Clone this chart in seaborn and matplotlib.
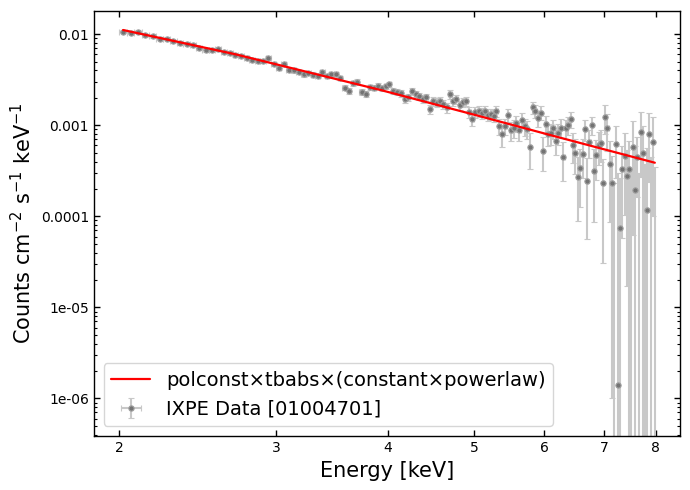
import numpy as np
import pandas as pd
import matplotlib
matplotlib.use("Agg")
import matplotlib.pyplot as plt
from matplotlib.ticker import FixedLocator, FuncFormatter, NullLocator, NullFormatter, LogLocator
import seaborn as sns

# spectral bins (keV), 0.04 keV wide
energy = [
    2.02, 2.06, 2.10, 2.14, 2.18, 2.22, 2.26, 2.30, 2.34, 2.38,
    2.42, 2.46, 2.50, 2.54, 2.58, 2.62, 2.66, 2.70, 2.74, 2.78,
    2.82, 2.86, 2.90, 2.94, 2.98, 3.02, 3.06, 3.10, 3.14, 3.18,
    3.22, 3.26, 3.30, 3.34, 3.38, 3.42, 3.46, 3.50, 3.54, 3.58,
    3.62, 3.66, 3.70, 3.74, 3.78, 3.82, 3.86, 3.90, 3.94, 3.98,
    4.02, 4.06, 4.10, 4.14, 4.18, 4.22, 4.26, 4.30, 4.34, 4.38,
    4.42, 4.46, 4.50, 4.54, 4.58, 4.62, 4.66, 4.70, 4.74, 4.78,
    4.82, 4.86, 4.90, 4.94, 4.98, 5.02, 5.06, 5.10, 5.14, 5.18,
    5.22, 5.26, 5.30, 5.34, 5.38, 5.42, 5.46, 5.50, 5.54, 5.58,
    5.62, 5.66, 5.70, 5.74, 5.78, 5.82, 5.86, 5.90, 5.94, 5.98,
    6.02, 6.06, 6.10, 6.14, 6.18, 6.22, 6.26, 6.30, 6.34, 6.38,
    6.42, 6.46, 6.50, 6.54, 6.58, 6.62, 6.66, 6.70, 6.74, 6.78,
    6.82, 6.86, 6.90, 6.94, 6.98, 7.02, 7.06, 7.10, 7.14, 7.18,
    7.22, 7.26, 7.30, 7.34, 7.38, 7.42, 7.46, 7.50, 7.54, 7.58,
    7.62, 7.66, 7.70, 7.74, 7.78, 7.82, 7.86, 7.90, 7.94, 7.98,
]
energy_halfwidth = [0.02] * len(energy)

flux = [
    0.01070, 0.01040, 0.01070, 0.00978, 0.00949, 0.00895, 0.00889, 0.00840, 0.00802, 0.00788,
    0.00753, 0.00706, 0.00675, 0.00666, 0.00684, 0.00636, 0.00627, 0.00588, 0.00580, 0.00545,
    0.00516, 0.00504, 0.00508, 0.00550, 0.00476, 0.00428, 0.00477, 0.00403, 0.00401, 0.00383,
    0.00363, 0.00375, 0.00361, 0.00346, 0.00386, 0.00346, 0.00362, 0.00365, 0.00333, 0.00260,
    0.00241, 0.00290, 0.00300, 0.00234, 0.00222, 0.00262, 0.00260, 0.00269, 0.00254, 0.00267,
    0.00281, 0.00241, 0.00233, 0.00225, 0.00196, 0.00203, 0.00236, 0.00222, 0.00208, 0.00195,
    0.00203, 0.00150, 0.00184, 0.00178, 0.00185, 0.00171, 0.00157, 0.00219, 0.00186, 0.00194,
    0.00167, 0.00179, 0.00186, 0.00139, 0.00117, 0.00139, 0.00144, 0.00135, 0.00142, 0.00131,
    0.00132, 0.00127, 0.00143, 0.000979, 0.000799, 0.000986, 0.00131, 0.000877, 0.000930, 0.00105,
    0.000887, 0.00115, 0.000977, 0.000913, 0.000574, 0.00157, 0.00144, 0.00119, 0.00138, 0.000525,
    0.00103, 0.000800, 0.000817, 0.000930, 0.000677, 0.000817, 0.000941, 0.000452, 0.000925, 0.00101,
    0.00116, 0.000608, 0.000500, 0.000268, 0.000337, 0.000484, 0.000904, 0.000246, 0.000660, 0.00101,
    0.000317, 0.000472, 0.000608, 0.000644, 0.000231, 0.00124, 0.000927, 0.000376, 0.000231, -0.00012,
    0.000623, 1.4e-06, 7.4e-05, 0.000328, 0.000464, 0.000277, 0.000328, -0.00008, 0.000582, 0.000195,
    0.000452, -0.00015, 0.000843, 0.000492, -0.00010, 0.000117, 0.00080, -0.00005, 0.00066, -0.00020,
]

flux_err = [
    0.00040, 0.00039, 0.00038, 0.00037, 0.00036, 0.00035, 0.00034, 0.00033, 0.00032, 0.00031,
    0.00030, 0.00030, 0.00029, 0.00028, 0.00028, 0.00027, 0.00026, 0.00026, 0.00025, 0.00025,
    0.00024, 0.00024, 0.00023, 0.00023, 0.00022, 0.00022, 0.00021, 0.00021, 0.00021, 0.00020,
    0.00020, 0.00020, 0.00020, 0.00019, 0.00020, 0.00019, 0.00019, 0.00019, 0.00019, 0.00018,
    0.00018, 0.00019, 0.00019, 0.00018, 0.00018, 0.00018, 0.00018, 0.00019, 0.00018, 0.00019,
    0.00020, 0.00019, 0.00018, 0.00018, 0.00018, 0.00018, 0.00019, 0.00019, 0.00018, 0.00018,
    0.00019, 0.00018, 0.00019, 0.00019, 0.00020, 0.00019, 0.00019, 0.00024, 0.00021, 0.00021,
    0.00020, 0.00021, 0.00021, 0.00019, 0.00018, 0.00019, 0.00020, 0.00019, 0.00020, 0.00019,
    0.00019, 0.00019, 0.00021, 0.00020, 0.00022, 0.00020, 0.00021, 0.00021, 0.00020, 0.00021,
    0.00021, 0.00022, 0.00021, 0.00021, 0.00024, 0.00024, 0.00023, 0.00022, 0.00023, 0.00021,
    0.00022, 0.00021, 0.00021, 0.00022, 0.00021, 0.00021, 0.00022, 0.00021, 0.00022, 0.00022,
    0.00023, 0.00022, 0.00021, 0.00018, 0.00021, 0.00022, 0.00023, 0.00019, 0.00022, 0.00023,
    0.00023, 0.00022, 0.00024, 0.00025, 0.00020, 0.00043, 0.00040, 0.00029, 0.00023, 0.00035,
    0.00036, 0.00030, 0.00019, 0.00027, 0.00036, 0.00026, 0.00035, 0.00040, 0.00052, 0.00040,
    0.00029, 0.00045, 0.00057, 0.00050, 0.00048, 0.00045, 0.00056, 0.00050, 0.00056, 0.00055,
]

# folded model curve
model_energy = [2.02, 2.70, 3.93, 5.00, 6.20, 7.98]
model_flux = [0.01114, 0.00603, 0.00244, 0.00131, 0.000746, 0.000388]

model_label = "polconst\u00d7tbabs\u00d7(constant\u00d7powerlaw)"
data_label = "IXPE Data [01004701]"

sns.set_style("ticks")
plt.rcParams["font.family"] = ["DejaVu Sans"]
plt.rcParams.update({
    "text.color": "black",
    "axes.labelcolor": "black",
    "axes.edgecolor": "black",
    "axes.linewidth": 1.0,
    "xtick.color": "black",
    "ytick.color": "black",
})

fig, ax = plt.subplots(figsize=(6.9, 4.9), dpi=100)
fig.subplots_adjust(left=0.136, right=0.9855, bottom=0.110, top=0.9776)
ax.set_xscale("log")
ax.set_yscale("log")

ax.errorbar(energy, flux, xerr=energy_halfwidth, yerr=flux_err, fmt="o",
            color="#c8c8c8", ecolor="#c8c8c8", elinewidth=1.5, capsize=2,
            markersize=3.8, markerfacecolor="#737373", markeredgecolor="#a0a0a0",
            markeredgewidth=0.8, label=data_label, zorder=2)

df_model = pd.DataFrame({"energy": model_energy, "flux": model_flux})
sns.lineplot(data=df_model, x="energy", y="flux", color="red", linewidth=1.6,
             ax=ax, label=model_label, zorder=3)

ax.set_xlim(1.873, 8.516)
ax.set_ylim(3.85e-7, 0.01803)

ax.xaxis.set_major_locator(FixedLocator([2, 3, 4, 5, 6, 7, 8]))
ax.xaxis.set_major_formatter(FuncFormatter(lambda v, p: f"{v:g}"))
ax.xaxis.set_minor_locator(NullLocator())
ax.xaxis.set_minor_formatter(NullFormatter())
ax.yaxis.set_major_locator(LogLocator(base=10))
ax.yaxis.set_major_formatter(FuncFormatter(lambda v, p: f"{v:g}"))
ax.yaxis.set_minor_locator(LogLocator(base=10, subs=np.arange(2, 10)))
ax.yaxis.set_minor_formatter(NullFormatter())
ax.tick_params(which="both", direction="in", top=True, right=True, labelsize=10,
               color="black", labelcolor="black")
ax.tick_params(which="major", length=4.5, width=1.0)
ax.tick_params(which="minor", length=2.5, width=0.8)

ax.set_xlabel("Energy [keV]", fontsize=15)
ax.set_ylabel("Counts cm$^{-2}$ s$^{-1}$ keV$^{-1}$", fontsize=15)

handles, labels = ax.get_legend_handles_labels()
order = [labels.index(model_label), labels.index(data_label)]
ax.legend([handles[i] for i in order], [labels[i] for i in order],
          loc="lower left", fontsize=14)

fig.savefig("out.png", dpi=100)
